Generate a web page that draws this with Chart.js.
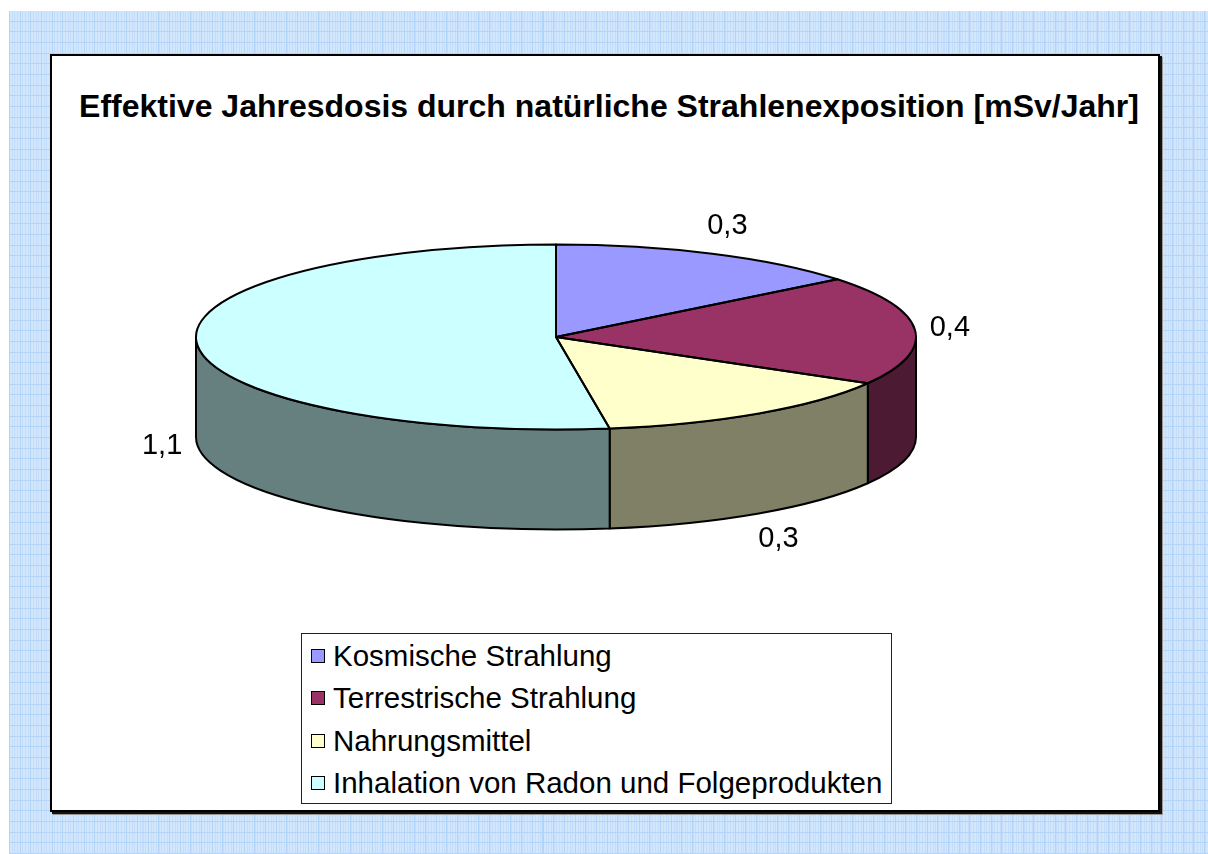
<!DOCTYPE html>
<html>
<head>
<meta charset="utf-8">
<script src="https://cdn.jsdelivr.net/npm/chart.js@4.4.1/dist/chart.umd.min.js"></script>
<style>
  html, body { margin: 0; padding: 0; background: #fff; }
  body { width: 1208px; height: 854px; position: relative; overflow: hidden; font-family: "Liberation Sans", Arial, sans-serif; }
  #grid {
    position: absolute; left: 9px; top: 11px; right: 0; bottom: 0;
    background-color: #d2e6fc;
    background-image:
      repeating-linear-gradient(90deg, #b3d3f7 0 1px, transparent 1px 10.67px),
      repeating-linear-gradient(0deg, #b3d3f7 0 1px, transparent 1px 10.67px),
      repeating-linear-gradient(90deg, #c4ddfa 0 1px, transparent 1px 2.67px);
  }
  #panel {
    position: absolute; left: 50px; top: 54px; width: 1110px; height: 758px;
    box-sizing: border-box; background: #fff; border: 2px solid #000;
    box-shadow: 2px 2px 0 #111, 3px 3px 0 #999;
  }
  #titel {
    position: absolute; left: 59px; width: 1100px; top: 87px;
    text-align: center; font-weight: bold; font-size: 32px; line-height: 38px; color: #000;
    white-space: nowrap;
  }
  #legende {
    position: absolute; left: 301px; top: 633px; width: 591px; height: 171px;
    box-sizing: border-box; border: 1px solid #222; background: #fff; padding-top: 1px;
  }
  .eintrag { display: flex; align-items: center; height: 42.3px; font-size: 29.5px; color: #000; white-space: nowrap; }
  .eintrag span.box { width: 12px; height: 12px; border: 1.5px solid #000; margin-left: 9px; margin-right: 8px; }
  #chart { position: absolute; left: 0; top: 0; }
</style>
</head>
<body>
<div id="grid"></div>
<div id="panel"></div>
<div id="titel">Effektive Jahresdosis durch natürliche Strahlenexposition [mSv/Jahr]</div>
<canvas id="chart" width="1208" height="854"></canvas>
<div id="legende"></div>
<script>
// daten
const kategorien = ['Kosmische Strahlung', 'Terrestrische Strahlung', 'Nahrungsmittel', 'Inhalation von Radon und Folgeprodukten']
const dosis = [0.3, 0.4, 0.3, 1.1]

// farben: oberseite und seitenwand
const farbenOben = ['#9999FF', '#993366', '#FFFFCC', '#CCFFFF']
const farbenSeite = ['#4D4D80', '#4D1A33', '#808066', '#668080']

// legende als html
const $legende = document.querySelector('#legende')
kategorien.forEach((name, i) => {
  const row = document.createElement('div')
  row.className = 'eintrag'
  const box = document.createElement('span')
  box.className = 'box'
  box.style.background = farbenOben[i]
  row.appendChild(box)
  row.appendChild(document.createTextNode(name))
  $legende.appendChild(row)
})

// plugin für den 3d-effekt (gekippte ellipse + seitenwand)
const pie3d = {
  id: 'pie3d',
  beforeDatasetsDraw(chart, args, opts) {
    const ctx = chart.ctx
    const arcs = chart.getDatasetMeta(0).data
    const cx = arcs[0].x, cy = arcs[0].y
    const rx = arcs[0].outerRadius, ry = rx * opts.tilt, d = opts.depth
    // seitenwand nur vorne sichtbar (winkel 0..PI)
    arcs.forEach((arc, i) => {
      const a = Math.max(arc.startAngle, 0)
      const b = Math.min(arc.endAngle, Math.PI)
      if (b <= a) return
      ctx.beginPath()
      ctx.ellipse(cx, cy, rx, ry, 0, a, b)
      ctx.ellipse(cx, cy + d, rx, ry, 0, b, a, true)
      ctx.closePath()
      ctx.fillStyle = farbenSeite[i]
      ctx.fill()
      ctx.lineWidth = opts.lineWidth
      ctx.strokeStyle = '#000'
      ctx.lineJoin = 'round'
      ctx.stroke()
    })
    // oberseite gestaucht zeichnen
    ctx.save()
    ctx.translate(cx, cy)
    ctx.scale(1, opts.tilt)
    ctx.translate(-cx, -cy)
  },
  afterDatasetsDraw(chart, args, opts) {
    const ctx = chart.ctx
    ctx.restore()
    const arcs = chart.getDatasetMeta(0).data
    const cx = arcs[0].x, cy = arcs[0].y
    const rx = arcs[0].outerRadius, ry = rx * opts.tilt, d = opts.depth
    // umrisse der segmente
    arcs.forEach((arc) => {
      ctx.beginPath()
      ctx.moveTo(cx, cy)
      ctx.ellipse(cx, cy, rx, ry, 0, arc.startAngle, arc.endAngle)
      ctx.closePath()
      ctx.lineWidth = opts.lineWidth
      ctx.strokeStyle = '#000'
      ctx.lineJoin = 'round'
      ctx.stroke()
    })
    // datenbeschriftung außen
    ctx.font = opts.labelFont
    ctx.fillStyle = '#000'
    ctx.textAlign = 'center'
    ctx.textBaseline = 'middle'
    arcs.forEach((arc, i) => {
      const mid = (arc.startAngle + arc.endAngle) / 2
      const c = Math.cos(mid), s = Math.sin(mid)
      const px = cx + rx * c
      const py = cy + ry * s + (s > 0 ? d : 0)
      const text = dosis[i].toFixed(1).replace('.', ',')
      ctx.fillText(text, px + c * opts.labelDx, py + s * opts.labelDy)
    })
  }
}

Chart.defaults.font.family = '"Liberation Sans", Arial, sans-serif'

new Chart(document.querySelector('#chart'), {
  type: 'pie',
  data: {
    labels: kategorien,
    datasets: [{
      data: dosis,
      backgroundColor: farbenOben,
      borderWidth: 0,
      clip: false
    }]
  },
  options: {
    responsive: false,
    animation: false,
    events: [],
    radius: 360,
    layout: {
      padding: { left: 196, right: 292, top: 245, bottom: 425 }
    },
    plugins: {
      legend: { display: false },
      tooltip: { enabled: false },
      pie3d: {
        tilt: 0.257,
        depth: 100,
        lineWidth: 2,
        labelFont: '29px "Liberation Sans", Arial, sans-serif',
        labelDx: 35,
        labelDy: 31
      }
    }
  },
  plugins: [pie3d]
})
</script>
</body>
</html>
